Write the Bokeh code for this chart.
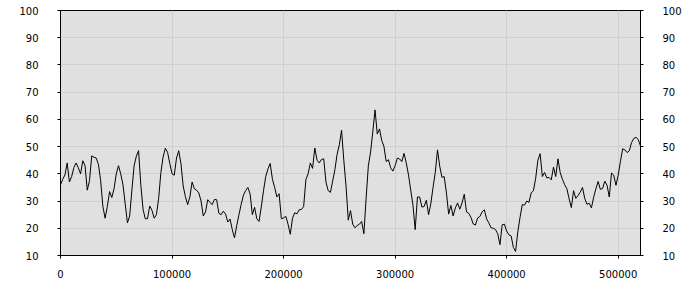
from bokeh.plotting import figure
from bokeh.models import LinearAxis, Range1d, FixedTicker, BasicTickFormatter
from bokeh.embed import file_html
from bokeh.resources import INLINE

step = 2000
values = [
    36, 38, 39.6, 44, 37, 39, 42.3, 44, 42.2, 40,
    44.8, 43, 34, 37.5, 46.6, 46.1, 45.8, 43.5, 37.5, 28,
    23.7, 28, 33.5, 31.3, 34.5, 40, 43, 40, 36, 29,
    22, 24.5, 34, 43, 46.5, 48.5, 36, 27, 23.5, 23.5,
    28.2, 26.6, 23.7, 25, 31, 40.5, 46.2, 49.4, 47.9, 43.8,
    40, 39.5, 45.8, 48.5, 43.7, 35.5, 31.6, 28.7, 31.5, 37,
    34.5, 34, 33, 30, 24.5, 26, 30.5, 29.5, 28.7, 30.6,
    30.5, 25.5, 25, 26.3, 25.2, 22.3, 23.4, 19.5, 16.5, 21,
    25, 28.8, 32.2, 33.8, 35, 32.6, 25, 27.7, 23.5, 22.5,
    27.8, 33.8, 39, 41.8, 43.8, 38, 35, 31.5, 32.7, 23.5,
    23.8, 24.4, 21.5, 17.8, 23.7, 25.7, 25.3, 26.8, 26.9, 28,
    37.9, 40, 44, 42, 49.5, 45, 44, 45.3, 45.5, 37,
    33.8, 33.2, 37.3, 41.5, 47.2, 50.7, 56, 45, 35.5, 23,
    26.5, 21.5, 20.2, 21, 21.5, 22.5, 18, 31, 43, 48,
    55.5, 63.5, 54.6, 56.5, 52.3, 50, 44.5, 45.2, 42.2, 41,
    43, 45.8, 45.5, 44.5, 47.5, 44, 39.6, 34, 28.5, 19.5,
    31.5, 31.5, 27.8, 28, 30.3, 25, 29, 35, 40.5, 48.8,
    42.8, 38.7, 39, 33, 25.2, 28.4, 24.5, 27.5, 29.3, 27,
    29.3, 32.5, 26, 25.5, 24, 21.6, 21.2, 23.8, 24.3, 26,
    26.8, 23.5, 22, 20.2, 20, 19.5, 18, 14, 21.3, 21.5,
    19, 17.6, 17.2, 13, 11.5, 18.7, 24, 28.7, 28.5, 30,
    29.5, 33, 33.8, 38.3, 45, 47.4, 39, 40.5, 38.5, 38.7,
    37.8, 42.5, 39, 45.5, 40.5, 38, 36, 34.5, 30.8, 27.6,
    33.8, 31, 32, 33.3, 35, 31, 28.8, 29.2, 27.5, 31.4,
    34.5, 37.2, 34.3, 34.6, 37.3, 35.8, 31.5, 40.3, 39.5, 35.8,
    39.5, 44.5, 49.2, 48.8, 47.8, 48.5, 51.5, 53, 53.4, 52.6,
    50.2,
]
xs = [i * step for i in range(len(values))]

x_ticks = [0, 100000, 200000, 300000, 400000, 500000]
y_ticks = [10, 20, 30, 40, 50, 60, 70, 80, 90, 100]

FONT = "DejaVu Sans"

p = figure(width=700, height=300, output_backend="svg", toolbar_location=None,
           x_range=Range1d(0, 520000), y_range=Range1d(10, 100),
           min_border_left=60, min_border_right=60, min_border_top=10,
           min_border_bottom=45)
p.background_fill_color = "#e0e0e0"
p.border_fill_color = "white"
p.outline_line_color = "black"
p.outline_line_alpha = 1.0
p.outline_line_width = 1

p.line(xs, values, line_color="black", line_width=1)

p.xgrid.ticker = FixedTicker(ticks=x_ticks)
p.ygrid.ticker = FixedTicker(ticks=y_ticks)
for g in (p.xgrid, p.ygrid):
    g.grid_line_color = "#cfcfcf"
    g.grid_line_width = 1

right = LinearAxis()
p.add_layout(right, "right")

for ax in (p.yaxis[0], right):
    ax.ticker = FixedTicker(ticks=y_ticks)
    ax.major_label_standoff = 19
for ax in p.xaxis:
    ax.ticker = FixedTicker(ticks=x_ticks)
    ax.formatter = BasicTickFormatter(use_scientific=False)
    ax.major_label_standoff = 11

for ax in p.xaxis + p.yaxis:
    ax.axis_line_color = "black"
    ax.major_tick_line_color = "black"
    ax.major_tick_out = 3
    ax.major_tick_in = 0
    ax.minor_tick_line_color = None
    ax.major_label_text_font = FONT
    ax.major_label_text_font_size = "10px"
    ax.major_label_text_color = "black"

open("out.html", "w").write(file_html(p, INLINE))
